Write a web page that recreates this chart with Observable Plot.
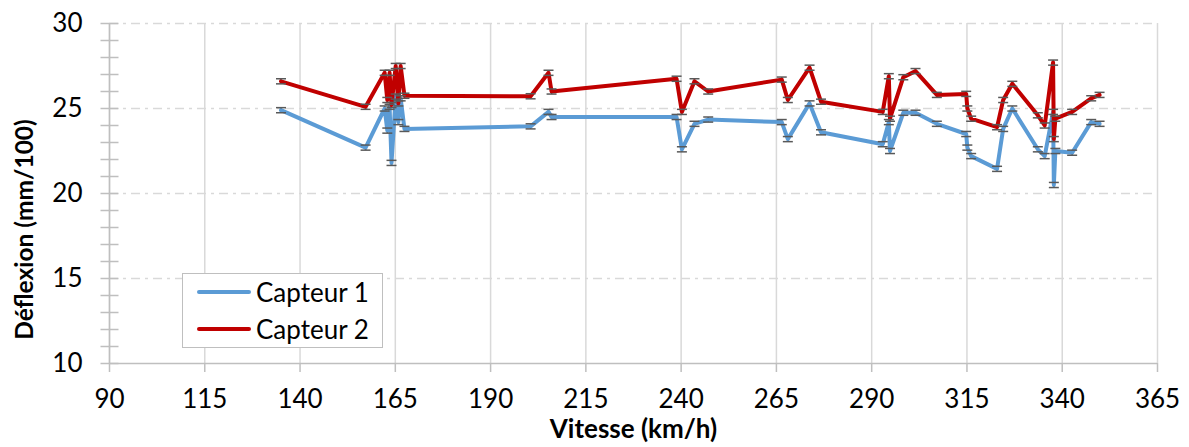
<!DOCTYPE html>
<html><head><meta charset="utf-8">
<script src="https://cdn.jsdelivr.net/npm/d3@7"></script>
<script src="https://cdn.jsdelivr.net/npm/@observablehq/plot@0.6"></script>
<style>
body{margin:0;background:#fff;}
#wrap{position:relative;width:1189px;height:447px;font-family:Lato,"Open Sans",sans-serif;}
#legend{position:absolute;left:182px;top:273px;width:201px;height:75px;border:1.5px solid #bfbfbf;background:#fff;box-sizing:border-box;}
.row{position:absolute;left:14px;height:30px;display:flex;align-items:center;font-size:26px;color:#000;white-space:nowrap;}
.sw{width:54px;height:4px;margin-right:5px;border-radius:2px;}
</style></head><body><div id="wrap"></div>
<script>
const vitesse = [135, 157.2, 162.2, 162.9, 163.5, 164.0, 165.1, 165.8, 166.4, 167.4, 200.5, 205.2, 206.0, 238.8, 240.2, 243.5, 247.1, 266.4, 268.0, 273.7, 276.7, 292.9, 294.5, 294.8, 298.3, 301.5, 307.1, 314.8, 315.1, 316.1, 322.9, 324.5, 326.9, 333.6, 335.4, 337.6, 337.8, 338.2, 342.6, 347.6, 349.8];
const capteur1 = [24.9, 22.7, 25.0, 23.7, 25.1, 21.8, 25.7, 24.2, 25.6, 23.8, 23.95, 24.8, 24.5, 24.5, 22.6, 24.1, 24.35, 24.2, 23.2, 25.3, 23.6, 22.9, 24.2, 22.5, 24.75, 24.75, 24.1, 23.5, 22.7, 22.2, 21.45, 23.8, 25.0, 22.6, 22.2, 24.8, 20.5, 22.5, 22.4, 24.2, 24.1];
const capteur2 = [26.6, 25.1, 27.1, 25.5, 27.1, 25.2, 27.5, 25.3, 27.5, 25.75, 25.72, 27.1, 26.0, 26.75, 24.8, 26.6, 26.0, 26.7, 25.5, 27.4, 25.4, 24.8, 26.9, 24.4, 26.84, 27.2, 25.8, 25.86, 25.0, 24.4, 23.9, 25.5, 26.45, 24.6, 24.0, 27.7, 23.2, 24.4, 24.8, 25.6, 25.8];
const seriesNames = ["Capteur 1", "Capteur 2"];
const seriesColors = ["#5B9BD5", "#C00000"];
const xTicks = [90, 115, 140, 165, 190, 215, 240, 265, 290, 315, 340, 365];
const yTicks = [10, 15, 20, 25, 30];
const yMinor = d3.range(10, 31, 1);
const errHalf = 0.15;

const values = [capteur1, capteur2];
const rows = seriesNames.flatMap((s, k) => vitesse.map((v, i) => ({x: v, y: values[k][i], serie: s})));
const caps = rows.flatMap(d => [{...d, y: d.y - errHalf}, {...d, y: d.y + errHalf}]);

const hline = {draw(ctx, size) { const r = Math.sqrt(size / Math.PI); ctx.moveTo(-r, 0); ctx.lineTo(r, 0); }};

const chart = Plot.plot({
  width: 1189, height: 447,
  marginLeft: 109, marginRight: 32, marginTop: 23, marginBottom: 84,
  x: {domain: [90, 365]},
  y: {domain: [10, 30]},
  color: {domain: seriesNames, range: seriesColors},
  style: {fontFamily: "Lato, 'Open Sans', sans-serif", background: "#fff", color: "#000"},
  marks: [
    Plot.gridX(xTicks, {stroke: "#d9d9d9", strokeOpacity: 1, strokeWidth: 1.5}),
    Plot.gridY([15, 20, 25, 30], {stroke: "#d9d9d9", strokeOpacity: 1, strokeWidth: 1.5, strokeDasharray: "9,5,3,5"}),
    Plot.ruleY([10], {stroke: "#bfbfbf", strokeWidth: 1.5}),
    Plot.ruleX([90], {stroke: "#bfbfbf", strokeWidth: 1.5}),
    Plot.dot(yMinor, {x: () => 90, y: d => d, symbol: hline, r: 9, stroke: "#bfbfbf", strokeWidth: 1.5}),
    Plot.axisX({ticks: xTicks, tickSize: 9, tickPadding: 17, fontSize: 26, stroke: "#bfbfbf", strokeWidth: 1.5, fill: "#000", label: null}),
    Plot.axisY({ticks: yTicks, tickSize: 0, tickPadding: 27, fontSize: 26, fill: "#000", label: null}),
    Plot.text(["Déflexion (mm/100)"], {frameAnchor: "left", textAnchor: "middle", rotate: -90, dx: -84, dy: 36, fontSize: 24.5, fontWeight: "bold", fill: "#000"}),
    Plot.text(["Vitesse (km/h)"], {frameAnchor: "bottom", textAnchor: "middle", dy: 74, fontSize: 26, fontWeight: "bold", fill: "#000"}),
    Plot.link(rows, {x1: "x", x2: "x", y1: d => d.y - errHalf, y2: d => d.y + errHalf, stroke: "#595959", strokeWidth: 1.5}),
    Plot.line(rows, {x: "x", y: "y", z: "serie", stroke: "serie", strokeWidth: 4, strokeLinejoin: "round", strokeLinecap: "round"}),
    Plot.dot(caps, {x: "x", y: "y", symbol: hline, r: 5, stroke: "#595959", strokeWidth: 1.5})
  ]
});
const wrap = document.getElementById("wrap");
wrap.appendChild(chart);

const legend = document.createElement("div");
legend.id = "legend";
seriesNames.forEach((name, i) => {
  const row = document.createElement("div");
  row.className = "row";
  row.style.top = (3 + i * 37) + "px";
  const sw = document.createElement("div");
  sw.className = "sw";
  sw.style.background = seriesColors[i];
  const t = document.createElement("span");
  t.textContent = name;
  row.appendChild(sw); row.appendChild(t);
  legend.appendChild(row);
});
wrap.appendChild(legend);
</script></body></html>
